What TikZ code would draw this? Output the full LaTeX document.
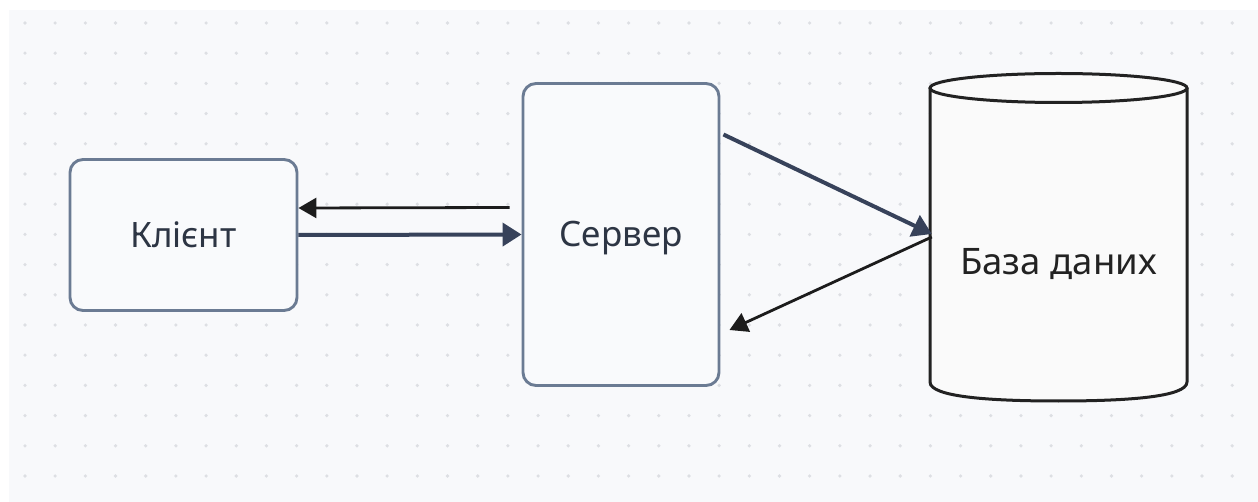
\documentclass[tikz,border=0pt]{standalone}
\usepackage{fontspec}
\setmainfont{Noto Sans}
\usetikzlibrary{arrows.meta,calc}

\definecolor{canvas}{HTML}{F8F9FB}
\definecolor{gridDot}{HTML}{DDDFE3}
\definecolor{boxLine}{HTML}{6B7B93}
\definecolor{boxFill}{HTML}{F9FAFC}
\definecolor{inkSlate}{HTML}{37425A}
\definecolor{inkBlack}{HTML}{1C1C1C}
\definecolor{labelInk}{HTML}{2D3544}
\definecolor{cylLine}{HTML}{222222}
\definecolor{cylFill}{HTML}{FAFAFA}

\tikzset{
  procbox/.style={draw=boxLine, line width=2.9pt, fill=boxFill,
    rounded corners=13pt, text=labelInk,
    font=\fontsize{35}{42}\selectfont, text height=25pt, text depth=0pt},
  callarrow/.style={draw=inkSlate, line width=4pt,
    -{Triangle[length=19pt,width=23pt]}},
  replyarrow/.style={draw=inkBlack, line width=2.8pt,
    -{Triangle[length=18pt,width=20pt]}},
  cylbody/.style={draw=cylLine, line width=3pt, fill=cylFill},
  dbtext/.style={text=cylLine, font=\fontsize{36.5}{44}\selectfont,
    text height=26pt, text depth=0pt},
}

\begin{document}
\begin{tikzpicture}[x=1pt,y=-1pt]
  \useasboundingbox (0,0) rectangle (1258,502);
  \fill[white] (0,0) rectangle (1258,502);
  \fill[canvas] (9,10) rectangle (1258,502);

  % dotted grid
  \foreach \i in {0,...,40}
    \foreach \j in {0,...,15}
      \fill[gridDot] (25+\i*30.18, 23+\j*30.2) circle (1.8pt);

  % client and server boxes
  \node[procbox, minimum width=227pt, minimum height=151pt] (client)
    at (183.5,235) {Клієнт};
  \node[procbox, minimum width=196pt, minimum height=302pt] (server)
    at (621,234.5) {Сервер};

  % database cylinder
  \node[minimum width=257pt, minimum height=329pt, inner sep=0pt] (db)
    at (1058.5,237) {};
  \path[cylbody] (930,88) -- (930,382)
    .. controls (930,397) and (990,401) .. (1058.5,401)
    .. controls (1127,401) and (1187,397) .. (1187,382)
    -- (1187,88);
  \draw[cylbody] (1058.5,88) ellipse [x radius=128.5, y radius=14.5];
  \node[dbtext] (dblabel) at ($(db.center)+(0,25)$) {База даних};

  % connectors
  \draw[replyarrow] ($(server.west)+(-12,-27)$) -- ($(client.east)+(0,-27)$);
  \draw[callarrow] (client.east) -- (server.west);
  \draw[callarrow] ($(server.east)+(3,-100)$) -- ($(db.west)+(2,-3)$);
  \draw[replyarrow] ($(db.west)+(2,0)$) -- ($(server.east)+(9,95.5)$);
\end{tikzpicture}
\end{document}
